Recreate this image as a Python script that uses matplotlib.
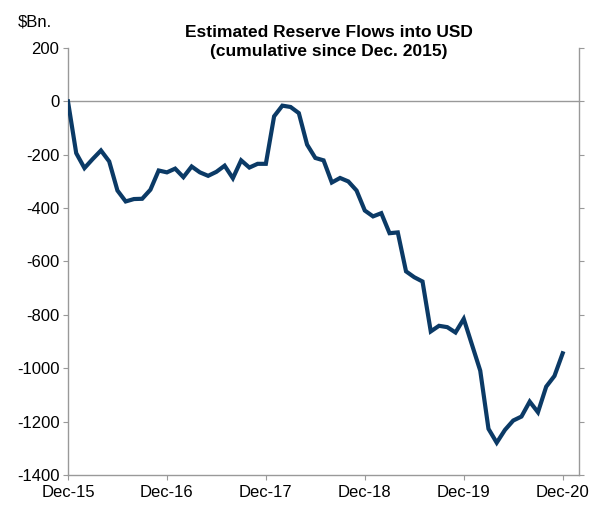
import numpy as np
import matplotlib
matplotlib.use('Agg')
import matplotlib.pyplot as plt

plt.rcParams['font.family'] = ['Liberation Sans', 'DejaVu Sans']

# months since Dec-15, cumulative reserve flows ($Bn.)
months = list(range(61))
flows = [0, -194, -250, -216, -184, -225, -334, -375, -366, -365,
         -331, -259, -266, -252, -284, -244, -266, -279, -264, -241,
         -288, -221, -248, -234, -234, -56, -16, -21, -44, -162,
         -212, -221, -304, -287, -300, -334, -409, -431, -419, -494,
         -491, -637, -659, -675, -862, -841, -846, -866, -815, -912,
         -1009, -1227, -1279, -1231, -1196, -1181, -1125, -1165, -1069, -1029,
         -944]
tick_pos = [0, 12, 24, 36, 48, 60]
tick_labels = ['Dec-15', 'Dec-16', 'Dec-17', 'Dec-18', 'Dec-19', 'Dec-20']
yticks = list(range(-1400, 201, 200))

fig = plt.figure(figsize=(5.91, 5.08), dpi=100)
ax = fig.add_axes([0.115, 0.065, 0.865, 0.8405])

ax.axhline(0, color='#999999', lw=1.0, zorder=1)
ax.plot(months, flows, color='#0B3A66', lw=3.0, solid_joinstyle='miter', zorder=3)

ax.set_xlim(0, 62)
ax.set_ylim(-1400, 200)
ax.set_xticks(tick_pos)
ax.set_xticklabels(tick_labels, fontsize=12)
ax.set_yticks(yticks)
ax.set_yticklabels([str(v) for v in yticks], fontsize=12)

for s in ['left', 'right', 'bottom']:
    ax.spines[s].set_color('#999999')
    ax.spines[s].set_linewidth(1.0)
ax.spines['top'].set_visible(False)
ax.tick_params(axis='y', which='both', left=True, right=True, direction='out',
               length=3.6, color='#999999', pad=2.5)
ax.tick_params(axis='x', direction='out', length=3.6, color='#999999', pad=3.5)

fig.text(0.556, 0.9355, 'Estimated Reserve Flows into USD',
         ha='center', va='center', fontsize=12.5, fontweight='bold')
fig.text(0.556, 0.899, '(cumulative since Dec. 2015)',
         ha='center', va='center', fontsize=12.5, fontweight='bold')
fig.text(0.03, 0.957, '$Bn.', ha='left', va='center', fontsize=12)

fig.savefig('out.png', dpi=100)
